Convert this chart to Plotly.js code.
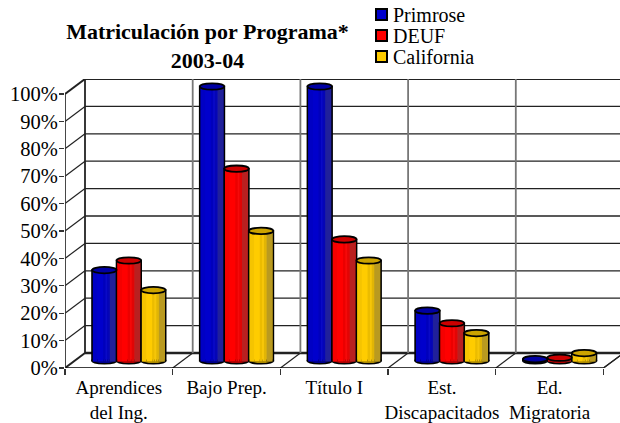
<!DOCTYPE html>
<html><head><meta charset="utf-8">
<script src="https://cdn.plot.ly/plotly-3.0.1.min.js"></script>
<style>html,body{margin:0;padding:0;background:#fff}</style></head>
<body><div id="c" style="width:620px;height:423px"></div>
<script>
const categories=['Aprendices<br>del Ing.','Bajo Prep.','Título I','Est.<br>Discapacitados','Ed.<br>Migratoria'];
const primrose=[33,100,100,18.2,0.5];
const deuf=[36.5,70,44.2,13.6,1];
const california=[25.7,47.3,36.5,10,2.7];
const seriesNames=['Primrose','DEUF','California'];
const seriesColors=[[0,0,204],[255,0,0],[255,204,0]];
const yTicks=[0,10,20,30,40,50,60,70,80,90,100];

const allValues=[primrose,deuf,california];
const PX=107.7, PY=2.74;                // px per category, px per percent
const DX=20/PX, DY=15/PY;               // depth of the box
const BW=24.5/PX;                       // bar width
const EH=3.2/PY;                        // half height of the ellipses
const XMAX=555/PX, YMAX=100+DY;
const strips=[[.03,.22,.96,0],[.22,.45,1,0],[.45,.55,.92,0],[.55,.62,1,.08],[.62,.72,.9,.04],[.72,.97,.8,.25]];
const rgb=(c,m,w)=>'rgb('+c.map(v=>Math.round(v*m*(1-w)+128*w)).join(',')+')';
const xs=categories.map((_,i)=>i+.5+DX/2);
const groupX=s=>xs.map(x=>x+(s-1)*BW);
const px=v=>(v-65)/555, py=v=>(368-v)/289;

const traces=[];const shapes=[];
const line=(x0,y0,x1,y1,c,w)=>shapes.push({type:'line',xref:'x',yref:'y',x0,y0,x1,y1,layer:'below',line:{color:c,width:w}});
// box grid
yTicks.forEach(v=>{
  if(v>0)line(0,v,DX,v+DY,'#222',v===100?2:1.2);
  line(DX,v+DY,XMAX,v+DY,'#222',v===0?2.4:v===100?2.2:1.3);
});
categories.concat(['']).forEach((_,i)=>{
  line(i,0,i+DX,DY,'#222',i===0?2:1.2);
  line(i+DX,DY,i+DX,100+DY,i===0?'#222':'#777',1.8);
});
line(5,0,5+.153,DY*.153/DX,'#222',1.2);
line(0,0,5,0,'#000',1.6);
line(0,0,0,100,'#333',1.8);

allValues.forEach((vals,s)=>{
  const c=seriesColors[s],x=groupX(s);
  traces.push({type:'bar',name:seriesNames[s],x,y:vals,base:DY/2,width:BW,showlegend:false,
    marker:{color:rgb(c,1,0),line:{color:'#000',width:1.8}},hoverinfo:'y'});
  strips.forEach(st=>{
    traces.push({type:'bar',x,y:vals.map(v=>v+.4),base:DY/2-.4,width:(st[1]-st[0])*BW,offset:(st[0]-.5)*BW,showlegend:false,
      marker:{color:rgb(c,st[2],st[3]),line:{width:0}},hoverinfo:'skip'});
  });
  vals.forEach((v,i)=>{
    shapes.push({type:'circle',xref:'x',yref:'y',x0:x[i]-BW/2,x1:x[i]+BW/2,y0:DY/2-EH,y1:DY/2+EH,layer:'below',
      fillcolor:rgb(c,.9,0),line:{color:'#000',width:1.8}});
    shapes.push({type:'circle',xref:'x',yref:'y',x0:x[i]-BW/2,x1:x[i]+BW/2,y0:v+DY/2-EH,y1:v+DY/2+EH,layer:'above',
      fillcolor:rgb(c,.8,0),line:{color:'#000',width:1.8}});
  });
});
const serif='"Liberation Serif","Times New Roman",serif';
// legend
const annotations=seriesNames.map((n,s)=>({xref:'paper',yref:'paper',x:px(392),y:py(14.5+21*s),xanchor:'left',yanchor:'middle',
  text:n,showarrow:false,font:{family:serif,size:20,color:'#000'},borderpad:0}));
seriesNames.forEach((n,s)=>{
  shapes.push({type:'rect',xref:'paper',yref:'paper',x0:px(376),x1:px(387),y0:py(20+21*s),y1:py(9+21*s),
    fillcolor:rgb(seriesColors[s],1,0),line:{color:'#000',width:2}});
});
Plotly.newPlot('c',traces,{
  width:620,height:423,paper_bgcolor:'#fff',plot_bgcolor:'rgba(0,0,0,0)',showlegend:false,
  margin:{l:65,r:0,t:79,b:55,pad:0},barmode:'overlay',
  font:{family:serif,color:'#000',size:19},
  title:{text:'<b>Matriculación por Programa*<br>2003-04</b>',x:207.5/620,xanchor:'center',y:1-39/423,yanchor:'middle',font:{family:serif,size:22,color:'#000'}},
  xaxis:{range:[0,XMAX],tickmode:'array',tickvals:xs.map(x=>x-DX/2),ticktext:categories,ticks:'',showgrid:false,zeroline:false,showline:false,
    tickangle:0,tickfont:{size:19},ticklabelstandoff:6,minor:{tickmode:'array',tickvals:[0,1,2,3,4,5],ticks:'outside',ticklen:6,tickcolor:'#333',tickwidth:1.3,showgrid:false}},
  yaxis:{range:[0,YMAX],tickmode:'array',tickvals:yTicks,ticktext:yTicks.map(v=>v+'%'),ticks:'outside',ticklen:5,tickcolor:'#333',tickwidth:1.3,
    showgrid:false,zeroline:false,showline:false,tickfont:{size:20.5},ticklabelstandoff:-3},
  shapes,annotations
},{displayModeBar:false,staticPlot:true});
</script></body></html>
